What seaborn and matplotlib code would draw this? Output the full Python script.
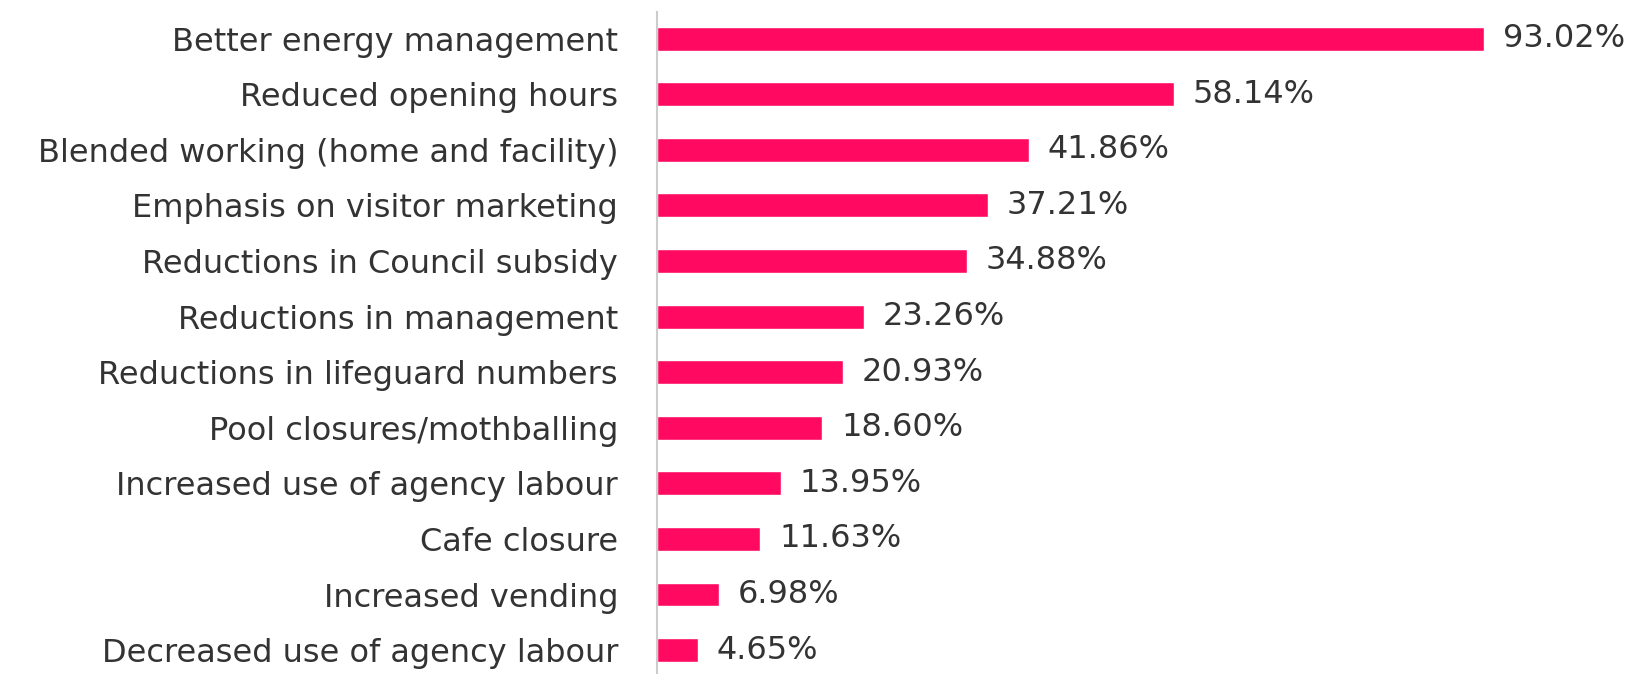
import matplotlib
matplotlib.use('Agg')
import matplotlib.pyplot as plt
import seaborn as sns
import pandas as pd

categories = [
    'Better energy management',
    'Reduced opening hours',
    'Blended working (home and facility)',
    'Emphasis on visitor marketing',
    'Reductions in Council subsidy',
    'Reductions in management',
    'Reductions in lifeguard numbers',
    'Pool closures/mothballing',
    'Increased use of agency labour',
    'Cafe closure',
    'Increased vending',
    'Decreased use of agency labour',
]
values = [93.02, 58.14, 41.86, 37.21, 34.88, 23.26, 20.93, 18.60, 13.95, 11.63, 6.98, 4.65]

df = pd.DataFrame({'category': categories, 'value': values})

sns.set_style('white')
plt.rcParams['font.family'] = ['DejaVu Sans']

fig = plt.figure(figsize=(16.42, 6.74), dpi=100)
ax = fig.add_axes([0.4001, 0.0, 0.5999, 0.982])

sns.barplot(data=df, x='value', y='category', color='#FF0A60', saturation=1,
            width=0.43, ax=ax)

# value labels to the right of each bar
for i, v in enumerate(values):
    ax.text(v + 2.1, i, f'{v:.2f}%', va='center', ha='left',
            fontsize=23, color='#333333')

ax.set_xlim(0, 110.8)
ax.set_ylim(11.43, -0.477)
ax.set_xlabel('')
ax.set_ylabel('')
ax.set_xticks([])
ax.tick_params(axis='y', length=0, pad=28, labelsize=23, labelcolor='#333333')
for side in ['top', 'right', 'bottom']:
    ax.spines[side].set_visible(False)
ax.spines['left'].set_color('#cccccc')
ax.spines['left'].set_linewidth(1.5)

fig.savefig('out.png', dpi=100)
